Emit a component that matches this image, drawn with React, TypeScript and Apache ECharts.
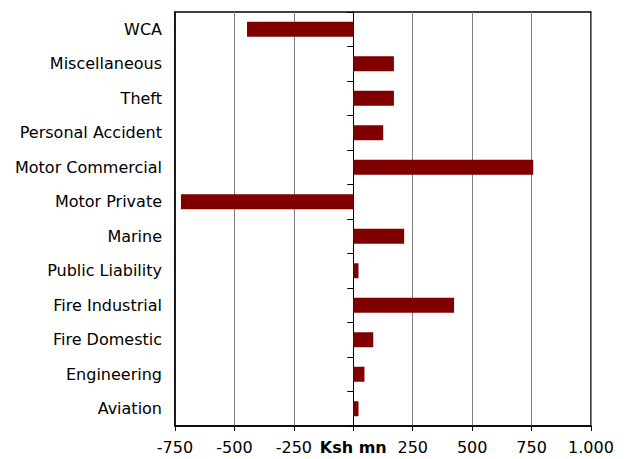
import React, { useEffect, useRef } from "react";
import * as echarts from "echarts";

const categories = [
  "WCA",
  "Miscellaneous",
  "Theft",
  "Personal Accident",
  "Motor Commercial",
  "Motor Private",
  "Marine",
  "Public Liability",
  "Fire Industrial",
  "Fire Domestic",
  "Engineering",
  "Aviation",
];
const values = [-447, 171, 171, 126, 757, -725, 214, 22, 424, 84, 47, 22];
const axisMin = -750;
const axisMax = 1000;
const axisStep = 250;
const zeroLabel = "Ksh mn";

const FONT = "DejaVu Sans";
const FS = 16;

export default function App() {
  const ref = useRef<HTMLDivElement>(null);
  useEffect(() => {
    if (!ref.current) return;
    const chart = echarts.init(ref.current, undefined, { renderer: "svg" });
    chart.setOption({
      animation: false,
      backgroundColor: "#ffffff",
      grid: {
        left: 175,
        right: 37,
        top: 12,
        bottom: 33,
        show: true,
        borderColor: "#000",
        borderWidth: 1.5,
        backgroundColor: "transparent",
      },
      xAxis: {
        type: "value",
        min: axisMin,
        max: axisMax,
        interval: axisStep,
        axisLine: { show: true, onZero: false, lineStyle: { color: "#000", width: 1.5 } },
        axisTick: { show: true, length: 5, lineStyle: { color: "#000" } },
        splitLine: { show: true, lineStyle: { color: "#808080", width: 1 } },
        axisLabel: {
          margin: 13,
          color: "#000",
          fontFamily: FONT,
          fontSize: FS,
          formatter: (v: number) => {
            if (v === 0) return "{b|" + zeroLabel + "}";
            if (Math.abs(v) >= 1000) return (v < 0 ? "-" : "") + "1.000";
            return String(v);
          },
          rich: {
            b: { fontWeight: "bold", fontFamily: FONT, fontSize: FS, color: "#000" },
          },
        },
      },
      yAxis: [
        {
          type: "category",
          data: categories,
          inverse: true,
          position: "left",
          axisLine: { show: true, onZero: false, lineStyle: { color: "#000", width: 1.5 } },
          axisTick: { show: false },
          axisLabel: {
            margin: 13,
            color: "#000",
            fontFamily: FONT,
            fontSize: FS,
          },
        },
        {
          type: "category",
          data: categories,
          inverse: true,
          position: "left",
          axisLine: { show: true, onZero: true, lineStyle: { color: "#000", width: 1 } },
          axisTick: { show: true, length: 6, lineStyle: { color: "#000" } },
          axisLabel: { show: false },
        },
      ],
      series: [
        {
          type: "bar",
          data: values,
          yAxisIndex: 0,
          barWidth: 15,
          itemStyle: { color: "#800000" },
        },
      ],
    });
    return () => chart.dispose();
  }, []);
  return (
    <div
      ref={ref}
      style={{ position: "absolute", left: 0, top: 0, width: 628, height: 459 }}
    />
  );
}
